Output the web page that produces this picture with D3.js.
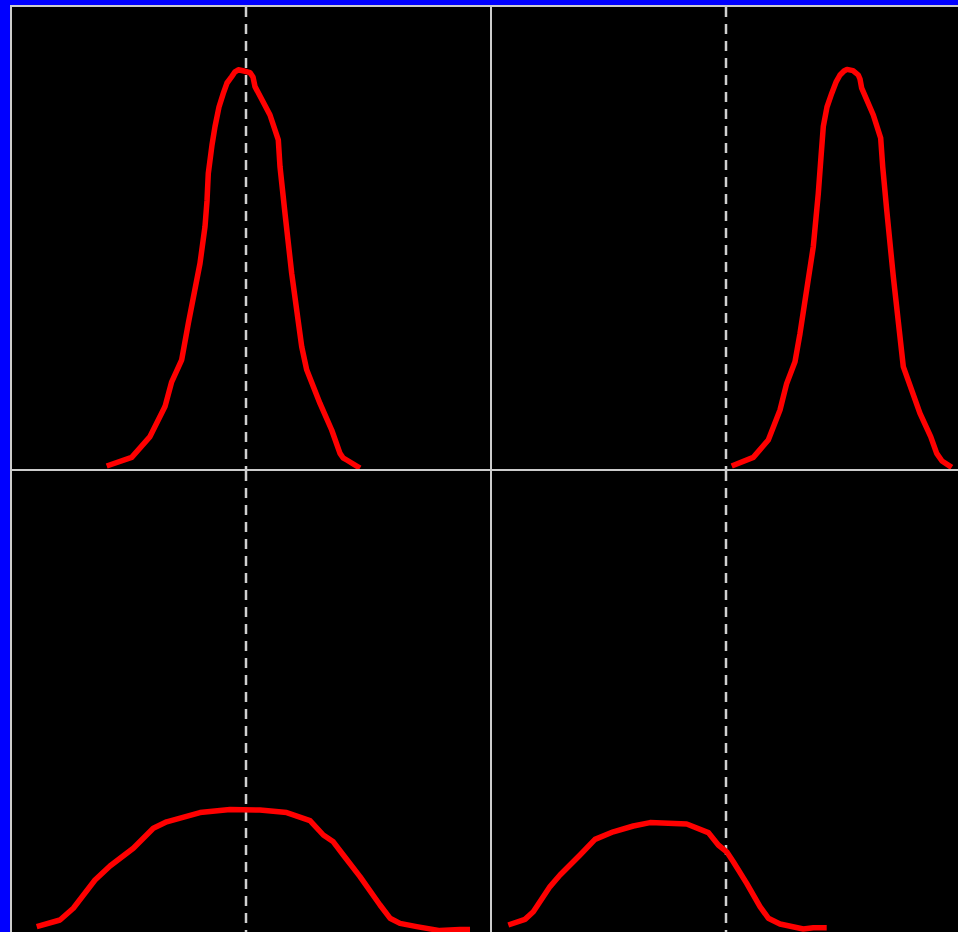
<!DOCTYPE html>
<html lang="en">

<head>
    <meta charset="utf-8">
    <title>Four density panels</title>
    <script type="text/javascript" src="https://d3js.org/d3.v7.min.js"></script>
    <style type="text/css">
        body { margin: 0; background: #0000ff; overflow: hidden; }
    </style>
</head>

<body>
    <script type="text/javascript">
        // values (x: offset from dashed marker, y: density)
        var topLeftX = [-1.393, -1.143, -0.96, -0.81, -0.743, -0.643, -0.577, -0.46, -0.41, -0.39, -0.377, -0.34, -0.31, -0.27, -0.227, -0.19, -0.143, -0.11, -0.077,
            -0.02, 0.04, 0.07, 0.09, 0.24, 0.323, 0.34, 0.39, 0.457, 0.557, 0.607, 0.74, 0.857, 0.94, 0.97, 1.007, 1.14];
        var topLeftY = [0.0075, 0.029, 0.081, 0.156, 0.218, 0.273, 0.364, 0.514, 0.606, 0.67, 0.739, 0.81, 0.856, 0.905, 0.939, 0.965, 0.981, 0.993, 0.998,
            0.995, 0.991, 0.98, 0.956, 0.885, 0.823, 0.756, 0.639, 0.489, 0.306, 0.248, 0.164, 0.0975, 0.039, 0.028, 0.0225, 0.002];

        var topRightX = [0.057, 0.273, 0.423, 0.54, 0.607, 0.69, 0.74, 0.873, 0.923, 0.95, 0.973, 1.01, 1.057, 1.1, 1.14, 1.18, 1.21,
            1.27, 1.323, 1.34, 1.357, 1.473, 1.547, 1.567, 1.607, 1.673, 1.773, 1.94, 2.047, 2.107, 2.16, 2.257];
        var topRightY = [0.0075, 0.029, 0.0725, 0.1475, 0.214, 0.268, 0.339, 0.556, 0.689, 0.78, 0.856, 0.905, 0.939, 0.967, 0.985, 0.995, 0.999,
            0.996, 0.985, 0.975, 0.952, 0.885, 0.827, 0.756, 0.648, 0.481, 0.256, 0.139, 0.081, 0.039, 0.02, 0.004];

        var bottomLeftX = [-2.093, -1.86, -1.727, -1.51, -1.36, -1.127, -0.927, -0.793, -0.46, -0.16, 0.14, 0.407,
            0.64, 0.773, 0.873, 0.973, 1.14, 1.34, 1.44, 1.54, 1.707, 1.94, 2.14, 2.24];
        var bottomLeftY = [0.016, 0.0325, 0.062, 0.1325, 0.1675, 0.212, 0.262, 0.278, 0.301, 0.309, 0.3075, 0.301,
            0.281, 0.245, 0.228, 0.195, 0.141, 0.07, 0.037, 0.024, 0.016, 0.006, 0.009, 0.009];

        var bottomRightX = [-2.177, -2.01, -1.927, -1.76, -1.66, -1.46, -1.31, -1.127, -0.927, -0.76, -0.393,
            -0.177, -0.077, 0.007, 0.073, 0.207, 0.34, 0.423, 0.54, 0.773, 0.873, 1.007];
        var bottomRightY = [0.02, 0.034, 0.053, 0.116, 0.145, 0.195, 0.234, 0.253, 0.2675, 0.276, 0.2725,
            0.251, 0.22, 0.203, 0.178, 0.124, 0.066, 0.037, 0.0225, 0.01, 0.013, 0.013];

        var panels = [
            { col: 0, row: 0, xs: topLeftX, ys: topLeftY },
            { col: 1, row: 0, xs: topRightX, ys: topRightY },
            { col: 0, row: 1, xs: bottomLeftX, ys: bottomLeftY },
            { col: 1, row: 1, xs: bottomRightX, ys: bottomRightY }
        ];

        var width = 958, height = 932;
        var cellW = 480, cellH = 464;
        var offsetX = 10, offsetY = 5;

        var x = d3.scaleLinear().domain([-2.36, 2.44]).range([0, cellW]);
        var y = d3.scaleLinear().domain([0, 1.16]).range([cellH, 0]);

        var svg = d3.select("body")
            .append("svg")
            .attr("width", width)
            .attr("height", height);

        var line = d3.line()
            .x(function(d) { return x(d[0]); })
            .y(function(d) { return y(d[1]); });

        var cell = svg.selectAll(".cell")
            .data(panels)
            .enter()
            .append("g")
            .attr("class", "cell")
            .attr("transform", function(d) {
                return "translate(" + (offsetX + d.col * cellW) + "," + (offsetY + d.row * cellH) + ")";
            });

        // black plot area with light border
        cell.append("rect")
            .attr("x", 1)
            .attr("y", 1)
            .attr("width", cellW)
            .attr("height", cellH)
            .attr("fill", "#000")
            .attr("stroke", "#cccccc")
            .attr("stroke-width", 2);

        // dashed marker at x = 0
        cell.append("line")
            .attr("x1", x(0))
            .attr("x2", x(0))
            .attr("y1", 2)
            .attr("y2", cellH)
            .attr("stroke", "#d0d0d0")
            .attr("stroke-width", 2.5)
            .attr("stroke-dasharray", "10,7");

        cell.append("path")
            .attr("d", function(d) {
                return line(d.xs.map(function(v, i) { return [v, d.ys[i]]; }));
            })
            .attr("fill", "none")
            .attr("stroke", "#ff0000")
            .attr("stroke-width", 5.5)
            .attr("stroke-linejoin", "round");
    </script>
</body>

</html>
